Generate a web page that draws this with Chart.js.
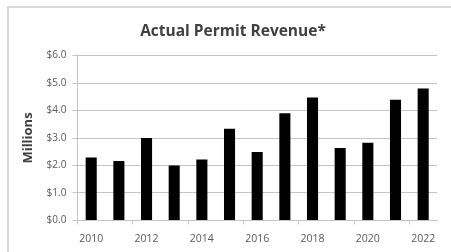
<!DOCTYPE html>
<html>
<head>
<meta charset="utf-8">
<script src="https://cdn.jsdelivr.net/npm/chart.js@4"></script>
<style>
  html, body { margin: 0; padding: 0; background: #fff; overflow: hidden; width: 451px; height: 252px; }
  #frame { position: absolute; left: 7px; top: 6px; width: 480px; height: 270px; border-left: 2px solid #d9d9d9; border-top: 2px solid #d9d9d9; }
  #wrap { position: absolute; left: 0; top: 0; width: 466px; height: 259px; }
</style>
</head>
<body>
<div id="frame"></div>
<div id="wrap"><canvas id="chart"></canvas></div>
<script>
const years = ['2010', '2011', '2012', '2013', '2014', '2015', '2016', '2017', '2018', '2019', '2020', '2021', '2022'];
const revenue = [2.29, 2.16, 3.0, 2.0, 2.22, 3.34, 2.49, 3.9, 4.47, 2.64, 2.83, 4.39, 4.8];
const yTicks = [0, 1, 2, 3, 4, 5, 6];

const gridGray = '#c4c4c4';

new Chart('chart', {
  type: 'bar',
  data: {
    labels: years,
    datasets: [{
      data: revenue,
      backgroundColor: '#000',
      borderWidth: 0,
      categoryPercentage: 1,
      barPercentage: 0.4
    }]
  },
  options: {
    responsive: true,
    maintainAspectRatio: false,
    animation: false,
    layout: { padding: { left: 0, right: 0, top: 0, bottom: 6 } },
    plugins: {
      legend: { display: false },
      tooltip: { enabled: false },
      title: {
        display: true,
        text: 'Actual Permit Revenue*',
        color: '#404040',
        font: { family: 'Open Sans', size: 15.5, weight: 'bold' },
        padding: { top: 22, bottom: 15 }
      }
    },
    scales: {
      x: {
        grid: {
          offset: true,
          drawOnChartArea: false,
          tickLength: 4,
          color: (c) => c.index % 2 === 0 ? gridGray : 'transparent'
        },
        border: { color: gridGray, width: 1 },
        ticks: {
          color: '#595959',
          font: { family: 'Open Sans', size: 10.5 },
          padding: 8,
          autoSkip: false,
          maxRotation: 0,
          callback: (v, i) => i % 2 === 0 ? years[i] : ''
        }
      },
      y: {
        min: 0,
        max: 6,
        afterBuildTicks: (axis) => { axis.ticks = yTicks.map(v => ({ value: v })); },
        grid: { color: gridGray, lineWidth: 1, tickLength: 5 },
        border: { color: gridGray, width: 1 },
        ticks: {
          color: '#595959',
          font: { family: 'Open Sans', size: 10 },
          padding: 6,
          callback: (v) => '$' + Number(v).toFixed(1)
        },
        title: {
          display: true,
          text: 'Millions',
          color: '#404040',
          font: { family: 'Open Sans', size: 13, weight: 'bold' },
          padding: { top: 20, bottom: 5 }
        }
      },
      // empty right-hand spacer so the title centres over the full frame
      spacer: {
        type: 'linear',
        position: 'right',
        display: true,
        grid: { display: false },
        border: { display: false },
        ticks: { display: false },
        afterFit: (s) => { s.width = 29; }
      }
    }
  }
});
</script>
</body>
</html>
